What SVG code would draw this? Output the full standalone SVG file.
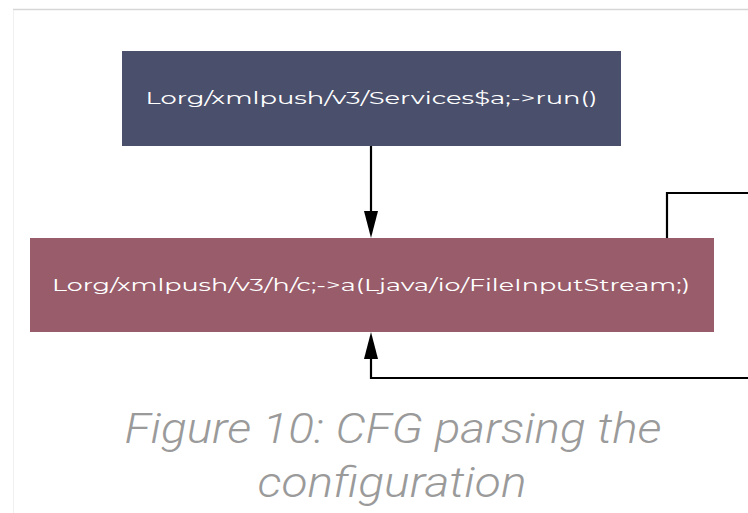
<svg xmlns="http://www.w3.org/2000/svg" width="748" height="513" viewBox="0 0 748 513">
  <defs>
    <style>
      .node-label { font-family: "Montserrat", "Open Sans", "Liberation Sans", sans-serif; font-size: 16px; fill: #ffffff; text-anchor: middle; dominant-baseline: central; }
      .edge { fill: none; stroke: #000; stroke-width: 2.2; }
      .head { fill: #000; }
      .caption { font-family: Roboto, "Liberation Sans", sans-serif; font-weight: 300; font-style: italic; font-size: 43px; fill: #9a9a9a; text-anchor: middle; }
    </style>
  </defs>
  <rect width="748" height="513" fill="#ffffff"/>
  <!-- page frame -->
  <line x1="13" y1="9.5" x2="748" y2="9.5" stroke="#d6d6d6" stroke-width="1.5"/>
  <line x1="13.5" y1="10" x2="13.5" y2="513" stroke="#f0f0f0" stroke-width="1"/>

  <g id="node-run">
    <rect x="122" y="51" width="499" height="95" fill="#4a4f6b"/>
    <text class="node-label" x="371.5" y="98.5" textLength="452" lengthAdjust="spacingAndGlyphs">Lorg/xmlpush/v3/Services$a;-&gt;run()</text>
  </g>

  <g id="node-parse">
    <rect x="30" y="238" width="684" height="94" fill="#985c6a"/>
    <text class="node-label" x="371" y="285" textLength="638" lengthAdjust="spacingAndGlyphs">Lorg/xmlpush/v3/h/c;-&gt;a(Ljava/io/FileInputStream;)</text>
  </g>

  <g id="connectors">
    <path class="edge" d="M371,146 V214"/>
    <polygon class="head" points="364,211 378,211 371,238"/>
    <path class="edge" d="M667,238 V193 H750"/>
    <path class="edge" d="M750,378 H371 V356"/>
    <polygon class="head" points="364,359 378,359 371,332"/>
  </g>

  <g id="caption">
    <text class="caption" x="393" y="443" textLength="537" lengthAdjust="spacingAndGlyphs">Figure 10: CFG parsing the</text>
    <text class="caption" x="392" y="497" textLength="269" lengthAdjust="spacingAndGlyphs">configuration</text>
  </g>
</svg>
